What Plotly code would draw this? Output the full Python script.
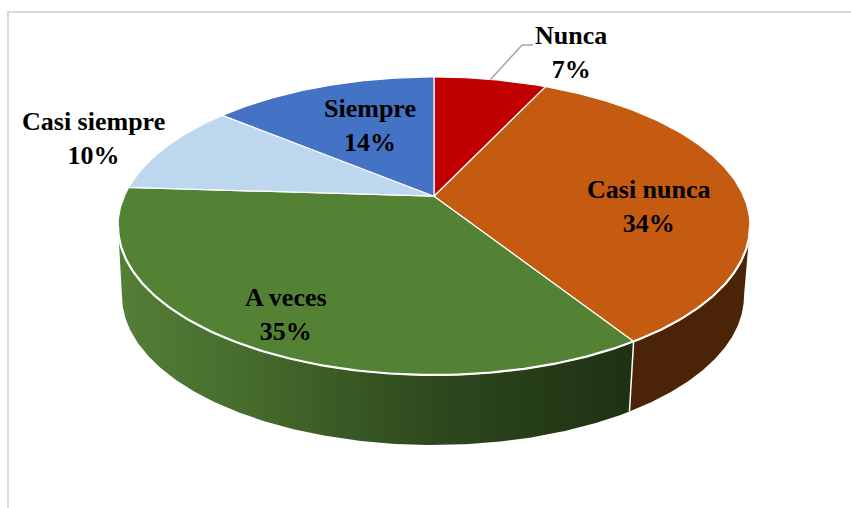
import numpy as np
import plotly.graph_objects as go

# Survey answers, clockwise from 12 o'clock
categories = ["Nunca", "Casi nunca", "A veces", "Casi siempre", "Siempre"]
percent = [7, 34, 35, 10, 14]

# Styling
top_colors = ["#C00000", "#C55A11", "#548235", "#BDD7EE", "#4472C4"]
side_fills = [
    None,
    dict(type="horizontal", colorscale=[[0, "#4B2407"], [1, "#4B2407"]]),
    dict(type="horizontal", colorscale=[[0, "#547F37"], [0.25, "#466C2C"],
                                        [0.6, "#2E4A1E"], [1, "#1E3113"]]),
    None,
    None,
]
label_pos = [(571, 52), (649, 206), (286, 314), (93, 138), (370, 125)]
LABEL_FONT = "Liberation Serif"

W, H = 851, 508
# Top face ellipse and bottom rim ellipse (pixel units)
CX, CY, RX, RY = 434, 226, 316, 149
BCX, BCY, BRX, BRY = 433, 296, 311, 149
K = 0.2  # perspective strength


def view_angle(theta):
    """Angle on the drawn ellipse for a true pie angle (radians, clockwise from top)."""
    den = 1 + K * np.cos(theta)
    u = np.sin(theta) / den
    v = -np.cos(theta) / den
    v0 = K / (1 - K ** 2)
    U = u * np.sqrt(1 - K ** 2)
    V = (v - v0) * (1 - K ** 2)
    return np.unwrap(np.arctan2(U, -V) % (2 * np.pi))


def top_xy(phi):
    return CX + RX * np.sin(phi), CY - RY * np.cos(phi)


def bot_xy(phi):
    return BCX + BRX * np.sin(phi), BCY - BRY * np.cos(phi)


fig = go.Figure()

cum = np.concatenate([[0], np.cumsum(percent)]) / sum(percent) * 2 * np.pi
center_x, center_y = CX, CY - K * RY
slice_phi = []
for i in range(len(percent)):
    th = np.linspace(cum[i], cum[i + 1], 200)
    slice_phi.append(view_angle(th))

# Side walls (visible front half only)
for i, phi in enumerate(slice_phi):
    lo, hi = max(phi[0], np.pi / 2), min(phi[-1], 3 * np.pi / 2)
    if hi <= lo:
        continue
    p = np.linspace(lo, hi, 200)
    tx, ty = top_xy(p)
    bx, by = bot_xy(p[::-1])
    kw = dict(fillgradient=side_fills[i]) if side_fills[i] else dict(fillcolor=top_colors[i])
    fig.add_trace(go.Scatter(x=np.concatenate([tx, bx]), y=np.concatenate([ty, by]),
                             fill="toself", mode="lines", line=dict(width=0),
                             hoverinfo="skip", showlegend=False, **kw))

# White seams where side slices meet
for i in range(1, len(percent)):
    ph = slice_phi[i][0]
    if np.pi / 2 < ph < 3 * np.pi / 2:
        x0, y0 = top_xy(ph)
        x1, y1 = bot_xy(ph)
        fig.add_trace(go.Scatter(x=[x0, x1], y=[y0, y1], mode="lines",
                                 line=dict(color="white", width=1.5),
                                 hoverinfo="skip", showlegend=False))

# Top faces
for i, phi in enumerate(slice_phi):
    x, y = top_xy(phi)
    fig.add_trace(go.Scatter(x=np.concatenate([[center_x], x, [center_x]]),
                             y=np.concatenate([[center_y], y, [center_y]]),
                             fill="toself", fillcolor=top_colors[i], mode="lines",
                             line=dict(color="white", width=1.2),
                             name=categories[i], hoverinfo="name", showlegend=False))

# White rim along the front edge of the top face
pf = np.linspace(np.pi / 2, 3 * np.pi / 2, 300)
fx, fy = top_xy(pf)
fig.add_trace(go.Scatter(x=fx, y=fy, mode="lines", line=dict(color="white", width=2.2),
                         hoverinfo="skip", showlegend=False))

# Leader line for the small "Nunca" slice
mid = view_angle(np.array([(cum[0] + cum[1]) / 2]))[0]
lx, ly = top_xy(mid)
fig.add_trace(go.Scatter(x=[lx, 522, 533], y=[ly, 45, 45], mode="lines",
                         line=dict(color="#A6A6A6", width=1.5),
                         hoverinfo="skip", showlegend=False))

# Data labels
for cat, p, (x, y) in zip(categories, percent, label_pos):
    fig.add_annotation(x=x, y=y, xref="x", yref="y", text=f"<b>{cat}<br>{p}%</b>",
                       showarrow=False, xanchor="center", yanchor="middle",
                       font=dict(family=LABEL_FONT, size=26, color="black"))

# Chart area frame
fig.add_shape(type="rect", xref="x", yref="y", x0=8, y0=12, x1=W + 20, y1=H + 20,
              line=dict(color="#D9D9D9", width=2), layer="below")

fig.update_layout(
    width=W, height=H, margin=dict(l=0, r=0, t=0, b=0),
    paper_bgcolor="white", plot_bgcolor="white",
    xaxis=dict(range=[0, W], visible=False, fixedrange=True),
    yaxis=dict(range=[H, 0], visible=False, fixedrange=True),
)

fig.write_html("out.html")
